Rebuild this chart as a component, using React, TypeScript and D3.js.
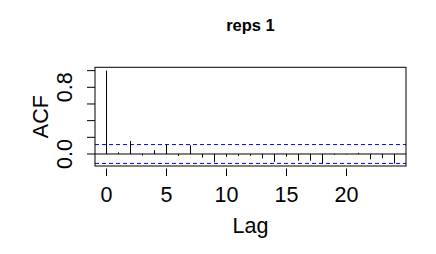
import React from "react";
import * as d3 from "d3";

const title = "reps 1";
const lags = [0,1,2,3,4,5,6,7,8,9,10,11,12,13,14,15,16,17,18,19,20,21,22,23,24];
const acfValues = [1.0,0.02,0.156,-0.018,0.046,0.112,-0.024,0.104,-0.044,-0.098,-0.034,-0.026,-0.022,-0.052,-0.094,-0.032,-0.08,-0.08,-0.116,-0.01,-0.004,0.014,-0.064,-0.05,-0.114];
const confLimit = 0.113;
const xTicks = [0, 5, 10, 15, 20];
const yTicks = [0, 0.2, 0.4, 0.6, 0.8, 1.0];
const yTickLabels = [0, 0.8];

export default function App() {
  const W = 436, H = 254;
  const left = 95, right = 406, top = 67.3, bottom = 166;
  const x = d3.scaleLinear().domain([-0.96, 24.96]).range([left, right]);
  const y = d3.scaleLinear().domain([-0.144, 1.04]).range([bottom, top]);
  const font = "'Liberation Sans', Arial, Helvetica, sans-serif";
  const cx = (left + right) / 2;
  const cy = (top + bottom) / 2;
  return (
    <svg width={W} height={H} style={{ position: "absolute", left: 0, top: 0, background: "#fff" }}>
      <text x={cx} y={30.5} textAnchor="middle" fontFamily={font} fontWeight="bold" fontSize={16.5}>{title}</text>
      {/* zero line */}
      <line x1={left} x2={right} y1={y(0)} y2={y(0)} stroke="#000" strokeWidth={1} />
      {/* confidence */}
      {[confLimit, -confLimit].map((c, i) => (
        <line key={i} x1={left} x2={right} y1={y(c)} y2={y(c)} stroke="#0000ff" strokeWidth={1} strokeDasharray="4,3" />
      ))}
      {/* bars */}
      {lags.map((l, i) => (
        <line key={l} x1={x(l)} x2={x(l)} y1={y(0)} y2={y(acfValues[i])} stroke="#000" strokeWidth={1} />
      ))}
      {/* box */}
      <rect x={left} y={top} width={right - left} height={bottom - top} fill="none" stroke="#000" strokeWidth={1} />
      {/* x ticks */}
      {xTicks.map((t) => (
        <g key={t}>
          <line x1={x(t)} x2={x(t)} y1={168.5} y2={176} stroke="#000" strokeWidth={1} />
          <text x={x(t)} y={201.5} textAnchor="middle" fontFamily={font} fontSize={21.5}>{t}</text>
        </g>
      ))}
      {/* y ticks */}
      {yTicks.map((t) => (
        <line key={t} x1={87} x2={left} y1={y(t)} y2={y(t)} stroke="#000" strokeWidth={1} />
      ))}
      {yTickLabels.map((t) => (
        <text key={t} transform={`translate(71.7,${y(t)}) rotate(-90)`} textAnchor="middle" fontFamily={font} fontSize={21.5}>{t.toFixed(1)}</text>
      ))}
      <text x={cx} y={233.3} textAnchor="middle" fontFamily={font} fontSize={21.5}>Lag</text>
      <text transform={`translate(48.3,${cy}) rotate(-90)`} textAnchor="middle" fontFamily={font} fontSize={21.5}>ACF</text>
    </svg>
  );
}
